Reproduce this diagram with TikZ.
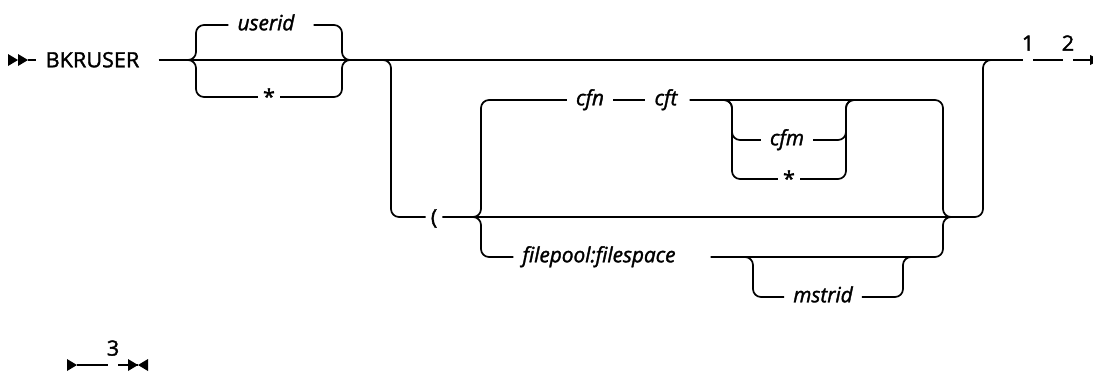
\documentclass[tikz,border=0pt]{standalone}
\usepackage{fontspec}
\setmainfont{Open Sans}[
  UprightFeatures={FakeBold=1.6, FakeStretch=1.03},
  ItalicFeatures={FakeBold=1.6, FakeStretch=0.99}]
\usetikzlibrary{arrows.meta}

\newcommand{\railfont}{\fontsize{21}{24}\selectfont}

\begin{document}
\begin{tikzpicture}[x=1pt,y=-1pt,
  rail/.style={line width=1.7pt, rounded corners=8pt},
  kw/.style={font=\railfont, text height=14.5pt, text depth=0pt, inner xsep=9pt, inner ysep=0pt},
  var/.style={font=\railfont\itshape, text height=10.5pt, text depth=0pt, inner xsep=9pt, inner ysep=0pt},
  sym/.style={kw, inner xsep=5pt},
  gapnode/.style={inner sep=0pt, minimum width=10pt, minimum height=0pt},
  fnote/.style={font=\railfont, text height=14pt, text depth=0pt, inner sep=0pt, label distance=9pt},
]
\useasboundingbox (0,0) rectangle (1093,373);

% ---- keywords and variables
\node[kw]  (bkruser) at (92.5,60) {BKRUSER};
\node[var] (userid)  at (266,25)  {userid};
\node[sym] (star1)   at (269,97)  {*};
\node[sym] (paren)   at (434,217) {(};
\node[var] (cfn)     at (590,100) {cfn};
\node[var] (cft)     at (666,100) {cft};
\node[var] (cfm)     at (787,140) {cfm};
\node[sym] (star2)   at (789,179) {*};
\node[var] (fp)      at (599,257) {filepool:filespace};
\node[var] (ms)      at (823,297) {mstrid};

% ---- footnote references
\node[gapnode, label={[fnote]above:1}] (n1) at (1028,60)  {};
\node[gapnode, label={[fnote]above:2}] (n2) at (1068,60)  {};
\node[gapnode, label={[fnote]above:3}] (n3) at (113,365)  {};

% ---- junction columns
\coordinate (uL) at (196,60);
\coordinate (uR) at (342,60);
\coordinate (oL) at (391,60);
\coordinate (oR) at (983,60);
\coordinate (iL) at (481,217);
\coordinate (iR) at (943,217);
\coordinate (mL) at (732,100);
\coordinate (mR) at (846,100);
\coordinate (sL) at (753,257);
\coordinate (sR) at (903,257);

% ---- start of statement
\coordinate (s0) at (28,60);
\fill (s0) -- ++(-10,-6) -- ++(0,12) -- cycle;
\fill ([xshift=-10pt]s0) -- ++(-10,-6) -- ++(0,12) -- cycle;
\draw[rail] (s0) -- (bkruser.west);

% ---- main line
\draw[rail] ([xshift=10pt]bkruser.east) -- (n1.west);
\draw[rail] (n1.east) -- (n2.west);
\coordinate (e0) at (1090,60);
\draw[rail] (n2.east) -- (e0);
\fill (e0) -- ++(0,-5) -- ++(10,5) -- ++(-10,5) -- cycle;

% ---- userid | *
\draw[rail] ([xshift=-16pt]uL) -- (uL) -- (uL |- userid) -- (userid.west);
\draw[rail] ([xshift=10pt]userid.east) -- (uR |- userid) -- (uR) -- ([xshift=16pt]uR);
\draw[rail] ([xshift=-16pt]uL) -- (uL) -- (uL |- star1) -- (star1.west);
\draw[rail] (star1.east) -- (uR |- star1) -- (uR) -- ([xshift=16pt]uR);

% ---- optional ( ... ) group
\draw[rail] ([xshift=-16pt]oL) -- (oL) -- (oL |- paren) -- (paren.west);
\draw[rail] (paren.east) -- (oR |- paren) -- (oR) -- ([xshift=16pt]oR);

% cfn cft branch
\draw[rail] ([xshift=-16pt]iL) -- (iL) -- (iL |- cfn) -- (cfn.west);
\draw[rail] (cfn.east) -- (cft.west);
\draw[rail] ([xshift=3pt]cft.east) -- (iR |- cft) -- (iR) -- ([xshift=16pt]iR);

% cfm | *
\draw[rail] ([xshift=-16pt]mL) -- (mL) -- (mL |- cfm) -- (cfm.west);
\draw[rail] ([xshift=-16pt]mL) -- (mL) -- (mL |- star2) -- (star2.west);
\draw[rail] (cfm.east) -- (mR |- cfm) -- (mR) -- ([xshift=16pt]mR);
\draw[rail] (star2.east) -- (mR |- star2) -- (mR) -- ([xshift=16pt]mR);

% filepool:filespace branch
\draw[rail] ([xshift=-16pt]iL) -- (iL) -- (iL |- fp) -- (fp.west);
\draw[rail] ([xshift=26pt]fp.east) -- (iR |- fp) -- (iR) -- ([xshift=16pt]iR);

% optional mstrid
\draw[rail] ([xshift=-16pt]sL) -- (sL) -- (sL |- ms) -- (ms.west);
\draw[rail] (ms.east) -- (sR |- ms) -- (sR) -- ([xshift=16pt]sR);

% ---- continuation line and end of statement
\coordinate (b0) at (77,365);
\fill (b0) -- ++(-10,-6) -- ++(0,12) -- cycle;
\draw[rail] (b0) -- (n3.west);
\coordinate (b1) at (138,365);
\draw[rail] (n3.east) -- (b1);
\fill (b1) -- ++(-10,-6) -- ++(0,12) -- cycle;
\fill (b1) -- ++(10,-6) -- ++(0,12) -- cycle;
\end{tikzpicture}
\end{document}
